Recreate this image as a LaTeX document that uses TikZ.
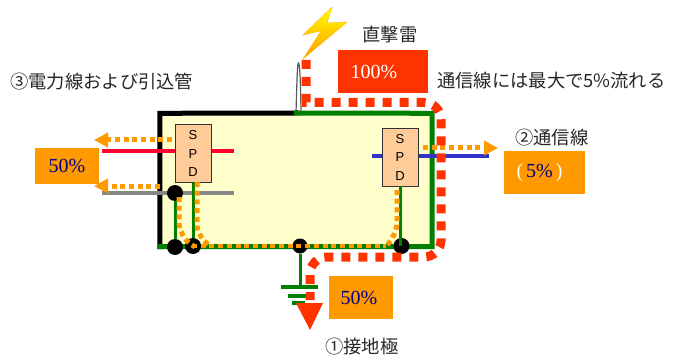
\documentclass[tikz,border=0pt]{standalone}
\usepackage{fontspec}
\setmainfont{Liberation Serif}
\setsansfont{Liberation Sans}
\newfontfamily\jpfont{Noto Sans CJK JP}
\usetikzlibrary{arrows.meta}
\definecolor{surgered}{HTML}{FF3300}
\definecolor{surgeorange}{HTML}{FF9900}
\definecolor{earthgreen}{HTML}{008000}
\definecolor{roomyellow}{HTML}{FFFFCC}
\definecolor{spdfill}{HTML}{FFCC99}
\definecolor{pctnavy}{HTML}{000080}
\definecolor{powerred}{HTML}{FF0033}
\definecolor{commblue}{HTML}{3333CC}
\begin{document}
\begin{tikzpicture}[
	x=1pt, y=-1pt,
	lbl/.style={inner sep=0pt, font=\jpfont\fontsize{18.3}{20}\selectfont, text=black!85},
	pctbox/.style={fill=surgeorange, inner sep=0pt, minimum width=64pt, minimum height=43pt, font=\fontsize{20}{22}\selectfont, text=pctnavy},
	spdbox/.style={draw=black!80, line width=0.8pt, fill=spdfill, inner sep=0pt, minimum width=36pt, minimum height=58pt, align=center, font=\sffamily\fontsize{13}{18.5}\selectfont},
	joint/.style={circle, fill=black, inner sep=0pt, minimum size=16pt},
	wall/.style={line width=5pt, line cap=rect},
	earth/.style={earthgreen, line width=3pt},
	feed/.style={line width=4.5pt},
	orangeflow/.style={surgeorange, line width=5pt, dash pattern=on 5pt off 3.7pt},
	orangearrow/.style={orangeflow, -{Triangle[length=14pt, width=14pt, fill=surgeorange]}},
	redflow/.style={surgered, line width=9pt, dash pattern=on 9pt off 8pt},
	]
	\useasboundingbox (0,0) rectangle (684,358);
	\node[fill=roomyellow, inner sep=0pt, minimum width=272pt, minimum height=133pt] (room) at (296,180) {};
	\coordinate (rodfoot) at (296,113);
	\coordinate (rodright) at (301,113);
	\coordinate (rodtop) at (298.5,63);
	\fill[white] (rodfoot) .. controls (297,75) and (297.5,63) .. (rodtop) .. controls (299.5,63) and (300.5,75) .. (rodright) -- cycle;
	\draw[black!65, line width=1.2pt] (rodfoot) .. controls (297,75) and (297.5,63) .. (rodtop) .. controls (299.5,63) and (300.5,75) .. (rodright);
	\draw[wall, black] (room.south west) -- (room.north west) -- (rodfoot);
	\draw[wall, earthgreen] (rodfoot) -- (room.north east) -- (room.south east) -- (room.south west);
	\draw[top color=yellow, bottom color=surgeorange, draw=surgeorange!70!yellow, line width=0.4pt] (332,7) -- (303,35) -- (321,31) -- (303,59) -- (347,22) -- (327,23) -- cycle;
	\coordinate (redw) at (102,151);
	\coordinate (rede) at (234,151);
	\coordinate (grayw) at (102,193);
	\coordinate (graye) at (234,193);
	\coordinate (bluew) at (372,156);
	\coordinate (bluee) at (489,156);
	\draw[feed, powerred] (redw) -- (rede);
	\draw[feed, black!47] (grayw) -- (graye);
	\draw[feed, commblue] (bluew) -- (bluee);
	\node[spdbox] (spdl) at (193,153.5) {S\\P\\D};
	\node[spdbox] (spdr) at (400,157) {S\\P\\D};
	\node[joint] (jgray) at (175,193) {};
	\node[joint] (jwall) at (175,247) {};
	\node[joint] (jspdl) at (193,246) {};
	\node[joint, minimum size=15pt] (jearth) at (300,246) {};
	\node[joint] (jspdr) at (401.5,246) {};
	\draw[earth] (jgray) -- (jwall);
	\draw[earth] (spdl.south) -- (jspdl);
	\draw[earth] (spdr.south) -- (spdr.south |- jspdr);
	\coordinate (bar1) at (300,287);
	\draw[earth] (jearth) -- (bar1);
	\draw[earth, line width=4pt] (281,287) -- (318,287);
	\draw[earth, line width=4pt] (288,296) -- (310,296);
	\draw[earth, line width=4pt] (292,303) -- (305,303);
	\coordinate (busw) at (192,246);
	\coordinate (buse) at (386,246);
	\draw[orangeflow, line width=4.5pt] (busw) -- (buse);
	\draw[orangeflow, rounded corners=14pt] (179,197) -- (179,236) -- (195,247);
	\draw[orangeflow, rounded corners=14pt] (197,182) -- (197,238) -- (211,246);
	\draw[orangeflow, rounded corners=14pt] (397,190) -- (397,236) -- (386,246);
	\draw[orangearrow] (172,140) -- (94,140);
	\draw[orangearrow] (160,186) -- (94,186);
	\draw[orangearrow] (423,148) -- (498,148);
	\draw[redflow] (306,60) -- (306,102.5) [rounded corners=17pt] -- (441,102.5) -- (441,257) -- (310,257) -- (310,300);
	\fill[surgered] (296,303) -- (323,303) -- (310,330) -- cycle;
	\node[pctbox, minimum width=90pt, fill=surgered, text=white] (p100) at (383,71.5) {\hspace*{-18pt}100\%};
	\node[pctbox, minimum height=36pt] (pleft) at (67,166) {\raisebox{-3pt}{50\%}};
	\node[pctbox, minimum width=81pt] (pcomm) at (544.5,172.5) {\hspace*{-10pt}\textcolor{white}{(}\kern3pt 5\%\kern3pt\textcolor{white}{)}};
	\node[pctbox] (pearth) at (361,297.5) {\hspace*{-4pt}50\%};
	\node[lbl] (thunder) at (390,35) {直撃雷};
	\node[lbl, anchor=west] (commnote) at (437,81) {通信線には最大で5\%流れる};
	\node[lbl, anchor=west] (powerlbl) at (10,82) {③電力線および引込管};
	\node[lbl, anchor=west] (commlbl) at (515,138) {②通信線};
	\node[lbl, anchor=west] (earthlbl) at (325,347) {①接地極};
\end{tikzpicture}
\end{document}
